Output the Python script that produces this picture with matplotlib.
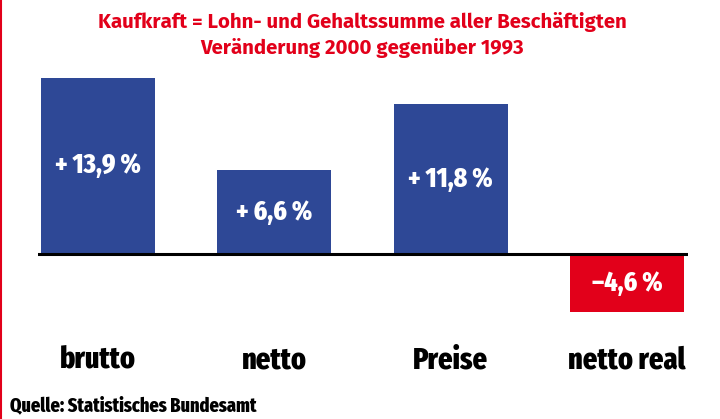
import matplotlib.pyplot as plt
import numpy as np
from matplotlib.lines import Line2D
from matplotlib import font_manager as fm

categories = ['brutto', 'netto', 'Preise', 'netto real']
values = [13.9, 6.6, 11.8, -4.6]
value_labels = ['+ 13,9 %', '+ 6,6 %', '+ 11,8 %', '\u20134,6 %']
title_lines = ['Kaufkraft = Lohn- und Gehaltssumme aller Beschäftigten',
               'Veränderung 2000 gegenüber 1993']
source = 'Quelle: Statistisches Bundesamt'

blue = '#2e4896'
red = '#e2001a'

# pick the first installed family from a wish list
installed = {f.name for f in fm.fontManager.ttflist}
def pick(*names):
    for n in names:
        if n in installed:
            return [n, 'DejaVu Sans']
    return ['DejaVu Sans']

narrow = pick('Fira Sans Extra Condensed', 'Roboto Condensed', 'Fira Sans Condensed',
              'Open Sans Condensed', 'IBM Plex Sans Condensed', 'Liberation Sans Narrow')
humanist = pick('Fira Sans', 'Lato')

fig = plt.figure(figsize=(7.2, 4.19), dpi=100)
ax = fig.add_axes([38 / 720, 1 - 340 / 419, 650 / 720, 280 / 419])

x = np.arange(len(categories))
colors = [blue if v >= 0 else red for v in values]
ax.bar(x, values, width=0.647, color=colors)
ax.axhline(0, color='black', lw=2.2)

# value labels in the middle of each bar
for xi, v, lab in zip(x, values, value_labels):
    ax.text(xi, v / 2, lab, ha='center', va='center', color='white',
            fontsize=20, fontweight='heavy', family=narrow)

ax.set_xlim(-0.34, 3.346)
ax.set_ylim(-6.77, 15.28)
ax.set_yticks([])
ax.set_xticks(x)
ax.set_xticklabels(categories, fontsize=22, fontweight='heavy', family=narrow)
ax.tick_params(axis='x', length=0, pad=0)
for s in ax.spines.values():
    s.set_visible(False)
for t in ax.get_xticklabels():
    t.set_y(-0.02)

fig.text(362 / 720, 1 - 22 / 419, title_lines[0], ha='center', va='center',
         color=red, fontsize=14.7, fontweight='bold', family=humanist)
fig.text(362 / 720, 1 - 48 / 419, title_lines[1], ha='center', va='center',
         color=red, fontsize=14.7, fontweight='bold', family=humanist)
fig.text(10 / 720, 1 - 406 / 419, source, ha='left', va='center',
         color='black', fontsize=14.3, fontweight='heavy', family=narrow)

fig.add_artist(Line2D([0.002, 0.002], [0, 1], color=red, lw=1.5,
                      transform=fig.transFigure))

fig.savefig('out.png', dpi=100)
